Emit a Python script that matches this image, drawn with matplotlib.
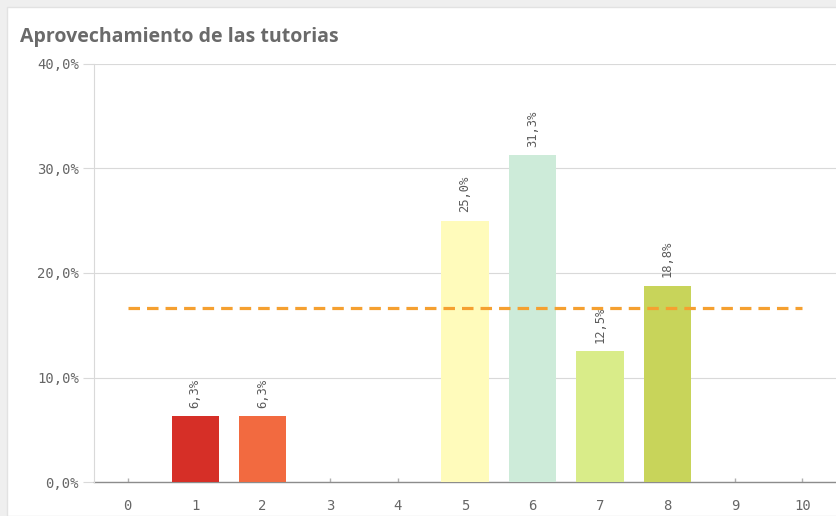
import matplotlib
matplotlib.use("Agg")
import matplotlib.pyplot as plt
from matplotlib.patches import Rectangle

# Data
categories = [0, 1, 2, 3, 4, 5, 6, 7, 8, 9, 10]
percentages = [0.0, 6.3, 6.3, 0.0, 0.0, 25.0, 31.3, 12.5, 18.8, 0.0, 0.0]
bar_colors = ["#d62f27", "#d62f27", "#f26a40", "#ffffff", "#ffffff", "#fffbbb",
              "#cdebd9", "#d9ec89", "#c8d45a", "#ffffff", "#ffffff"]
mean_value = 100 / 6
y_ticks = [0, 10, 20, 30, 40]
title = "Aprovechamiento de las tutorias"

W, H = 837, 516
fig = plt.figure(figsize=(W / 100, H / 100), dpi=100)
fig.patch.set_facecolor("#efefef")
card = Rectangle((7 / W, 0), 1 - 7 / W, 1 - 7 / H, transform=fig.transFigure,
                 facecolor="white", edgecolor="#e2e2e2", lw=1, zorder=-1)
fig.add_artist(card)

fig.text(20 / W, 1 - 37 / H, title, fontsize=14, fontweight="bold", color="#6a6a6a",
         family="Open Sans", va="center", ha="left")

ax = fig.add_axes([94 / W, 1 - 482 / H, (836 - 94) / W, (482 - 64) / H])
ax.set_zorder(2)
ax.set_facecolor("none")
ax.set_xlim(-0.5, 10.5)
ax.set_ylim(0, 40)

fmt = lambda v: f"{v:.1f}".replace(".", ",") + "%"

for x, v, c in zip(categories, percentages, bar_colors):
    if v > 0:
        ax.bar(x, v, width=0.7, color=c, zorder=3)
        ax.text(x, v + 0.8, fmt(v), rotation=90, ha="center", va="bottom",
                fontsize=8.7, color="#5a5a5a", family="DejaVu Sans Mono", zorder=4)

ax.plot([categories[0], categories[-1]], [mean_value, mean_value], linestyle=(0, (3.6, 2.2)),
        color="#f5a030", lw=2.3, zorder=5)

ax.set_yticks(y_ticks)
ax.set_yticklabels([fmt(v) for v in y_ticks])
ax.set_xticks(categories)
ax.set_xticklabels([str(c) for c in categories])
ax.grid(axis="y", color="#d9d9d9", lw=0.8, zorder=0)
ax.set_axisbelow(True)

for s in ["top", "right"]:
    ax.spines[s].set_visible(False)
ax.spines["left"].set_color("#d9d9d9")
ax.spines["left"].set_linewidth(0.8)
ax.spines["bottom"].set_color("#8c8c8c")
ax.spines["bottom"].set_linewidth(1)
ax.spines["bottom"].set_zorder(2)

ax.tick_params(axis="y", length=8, width=0.8, color="#d9d9d9", pad=3,
               labelsize=10, labelcolor="#666666")
ax.tick_params(axis="x", direction="in", length=3, width=1, color="#b0b0b0", pad=12,
               labelsize=10, labelcolor="#666666")
for lab in ax.get_xticklabels() + ax.get_yticklabels():
    lab.set_family("DejaVu Sans Mono")

fig.savefig("out.png", dpi=100)
